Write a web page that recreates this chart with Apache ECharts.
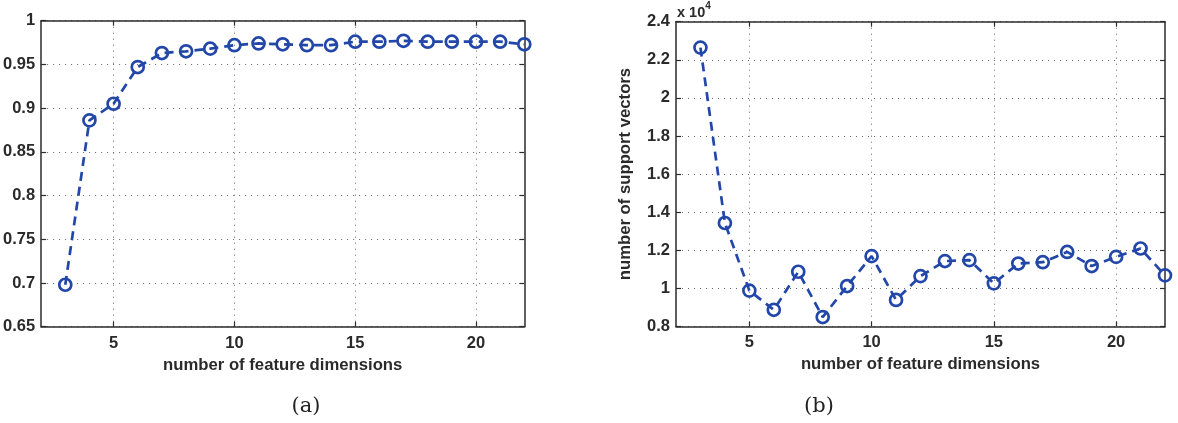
<!DOCTYPE html>
<html>
<head>
<meta charset="utf-8">
<script src="https://cdn.jsdelivr.net/npm/echarts@6/dist/echarts.min.js"></script>
<style>
html,body{margin:0;padding:0;background:#fff;}
#c{width:1178px;height:423px;}
</style>
</head>
<body>
<div id="c"></div>
<script>
// ---- data ----
const featureDims = [3,4,5,6,7,8,9,10,11,12,13,14,15,16,17,18,19,20,21,22];
const accuracy = [0.698,0.886,0.905,0.947,0.963,0.965,0.968,0.972,0.974,0.973,0.972,0.972,0.976,0.976,0.977,0.976,0.976,0.976,0.976,0.973];
const supportVectors = [2.264,1.343,0.988,0.887,1.087,0.849,1.012,1.169,0.939,1.064,1.143,1.148,1.026,1.130,1.137,1.191,1.117,1.165,1.209,1.068]; // x 10^4
const xTickLabels = [5,10,15,20];
const xAxisTitle = 'number of feature dimensions';
const yAxisTitleB = 'number of support vectors';
const captions = ['(a)','(b)'];

const BLUE = '#2247a8';
const AX = '#2b2b2b';
const labelFont = {fontFamily:'Liberation Sans, Arial, sans-serif', fontWeight:'bold', fontSize:16.5, color:'#2a2a2a'};
const nameFont = {fontFamily:'Liberation Sans, Arial, sans-serif', fontWeight:'bold', fontSize:16.7, color:'#2a2a2a'};

function xAx(gi, pos, showLabel) {
  return {
    type:'value', gridIndex:gi, position:pos, min:2, max:22,
    axisLine:{show:true, onZero:false, lineStyle:{color:AX, width:1.5}},
    axisTick:{show:true, inside:true, length:5, customValues:xTickLabels, lineStyle:{color:AX, width:1.2}},
    axisLabel:Object.assign({show:showLabel, margin:8, customValues:xTickLabels}, labelFont),
    splitLine:{show:showLabel, lineStyle:{type:[1,5], color:'#666', width:1}},
    name: showLabel ? xAxisTitle : '', nameLocation:'middle', nameGap:27,
    nameTextStyle: nameFont
  };
}
function yAx(gi, pos, min, max, interval, showLabel, name) {
  return {
    type:'value', gridIndex:gi, position:pos, min:min, max:max, interval:interval,
    axisLine:{show:true, onZero:false, lineStyle:{color:AX, width:1.5}},
    axisTick:{show:true, inside:true, length:5, lineStyle:{color:AX, width:1.2}},
    axisLabel:Object.assign({show:showLabel, margin:6, formatter:(v)=>String(+v.toFixed(2))}, labelFont),
    splitLine:{show:showLabel, lineStyle:{type:[1,5], color:'#666', width:1}},
    name: name || '', nameLocation:'middle', nameGap:42, nameRotate:90,
    nameTextStyle: nameFont
  };
}
function ser(xi, yi, vals) {
  return {
    type:'line', xAxisIndex:xi, yAxisIndex:yi,
    data: featureDims.map((d,i)=>[d, vals[i]]),
    symbol:'circle', symbolSize:12,
    lineStyle:{color:BLUE, width:2.7, type:[9,6]},
    itemStyle:{color:'rgba(255,255,255,0)', borderColor:BLUE, borderWidth:2.7},
    emphasis:{disabled:true}, silent:true, z:5
  };
}

const chart = echarts.init(document.getElementById('c'), null, {renderer:'canvas'});
chart.setOption({
  animation:false,
  backgroundColor:'#fff',
  grid:[
    {left:34.3, top:20.7, width:490, height:306, show:false},
    {left:676, top:21.7, width:489, height:304.7, show:false}
  ],
  xAxis:[ xAx(0,'bottom',true), xAx(0,'top',false), xAx(1,'bottom',true), xAx(1,'top',false) ],
  yAxis:[
    yAx(0,'left',0.65,1,0.05,true,''), yAx(0,'right',0.65,1,0.05,false,''),
    yAx(1,'left',0.8,2.4,0.2,true,yAxisTitleB), yAx(1,'right',0.8,2.4,0.2,false,'')
  ],
  series:[ ser(0,0,accuracy), ser(2,2,supportVectors) ],
  graphic:[
    {type:'text', left:677, top:1, style:{
      text:'{a|x 10}{s|4}', rich:{
        a:{fontFamily:'Liberation Sans, Arial, sans-serif', fontWeight:'bold', fontSize:14.5, fill:'#2a2a2a'},
        s:{fontFamily:'Liberation Sans, Arial, sans-serif', fontWeight:'bold', fontSize:10, fill:'#2a2a2a', verticalAlign:'top', padding:[0,0,14,0]}
      }}},
    {type:'text', x:306, y:407, style:{text:captions[0], fontFamily:'DejaVu Serif, Liberation Serif, serif', fontSize:21, fill:'#222', align:'center', verticalAlign:'middle'}},
    {type:'text', x:819, y:407, style:{text:captions[1], fontFamily:'DejaVu Serif, Liberation Serif, serif', fontSize:21, fill:'#222', align:'center', verticalAlign:'middle'}}
  ]
});
</script>
</body>
</html>
